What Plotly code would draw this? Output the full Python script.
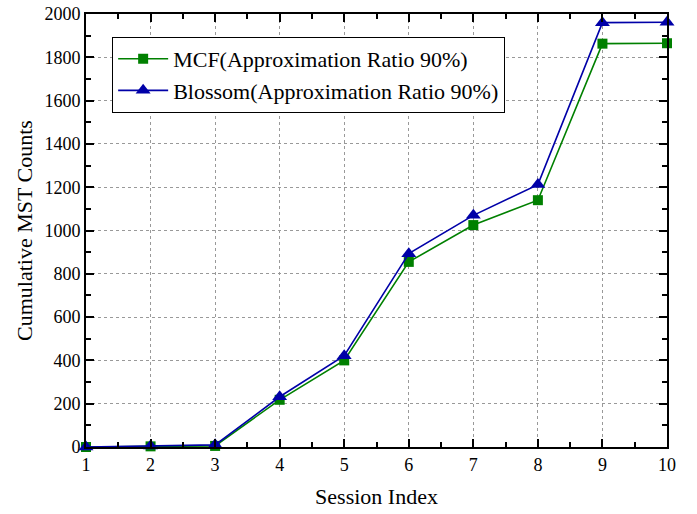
import plotly.graph_objects as go

sessions = [1, 2, 3, 4, 5, 6, 7, 8, 9, 10]
mcf = [0, 3, 5, 218, 400, 855, 1025, 1140, 1863, 1865]
blossom = [0, 5, 10, 232, 422, 893, 1070, 1212, 1960, 1962]
x_ticks = [1, 2, 3, 4, 5, 6, 7, 8, 9, 10]
y_ticks = [0, 200, 400, 600, 800, 1000, 1200, 1400, 1600, 1800, 2000]

font = "Liberation Serif, Times New Roman, serif"

fig = go.Figure()
fig.add_trace(go.Scatter(
    x=sessions, y=mcf, mode="lines+markers",
    name="MCF(Approximation Ratio 90%)",
    line=dict(color="#008000", width=1.6),
    marker=dict(symbol="square", size=10, color="#008000"),
    cliponaxis=False,
))
fig.add_trace(go.Scatter(
    x=sessions, y=blossom, mode="lines+markers",
    name="Blossom(Approximation Ratio 90%)",
    line=dict(color="#0000A8", width=1.6),
    marker=dict(symbol="triangle-up", size=13, color="#0000A8"),
    cliponaxis=False,
))

axis_common = dict(
    showline=True, linecolor="black", linewidth=2, mirror="allticks",
    ticks="inside", ticklen=8, tickwidth=1.5, tickcolor="black",
    showgrid=True, gridcolor="#999999", griddash="3px,3px", gridwidth=1,
    zeroline=False, automargin=False,
    tickfont=dict(family=font, size=18, color="black"),
)

fig.update_layout(
    width=697, height=514,
    margin=dict(l=86, r=30, t=14, b=67),
    paper_bgcolor="white", plot_bgcolor="white",
    font=dict(family=font, color="black"),
    xaxis=dict(
        range=[1, 10], tickvals=x_ticks,
        minor=dict(dtick=0.5, tick0=1, ticks="inside", ticklen=5, tickcolor="black", showgrid=False),
        title=dict(text="Session Index", font=dict(family=font, size=22), standoff=15),
        **axis_common,
    ),
    yaxis=dict(
        range=[0, 2000], tickvals=y_ticks,
        minor=dict(dtick=100, tick0=0, ticks="inside", ticklen=5, tickcolor="black", showgrid=False),
        title=dict(text="Cumulative MST Counts", font=dict(family=font, size=22), standoff=6),
        **axis_common,
    ),
    legend=dict(
        x=0.045, y=0.947, xanchor="left", yanchor="top",
        bgcolor="white", bordercolor="black", borderwidth=1,
        font=dict(family=font, size=22, color="black"),
        tracegroupgap=0, itemwidth=50,
    ),
    showlegend=True,
)

fig.write_html(
    "out.html",
    config={"displayModeBar": False},
    post_script="document.body.style.margin='0';document.body.style.overflow='hidden';",
)
